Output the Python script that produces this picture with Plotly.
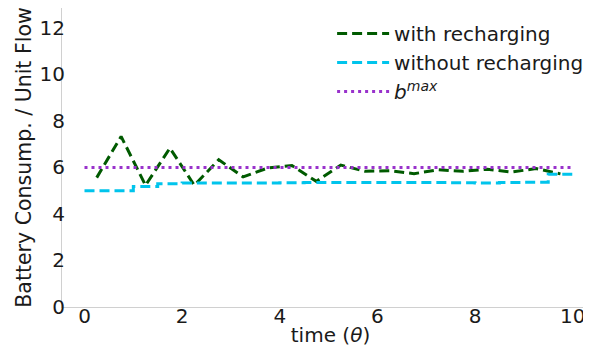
import plotly.graph_objects as go

# Data
t_with = [0.25, 0.75, 1.25, 1.75, 2.25, 2.75, 3.25, 3.75, 4.25, 4.75,
          5.25, 5.75, 6.25, 6.75, 7.25, 7.75, 8.25, 8.75, 9.25, 9.75]
with_recharging = [5.56, 7.33, 5.23, 6.83, 5.23, 6.33, 5.59, 5.97, 6.08, 5.40,
                   6.10, 5.83, 5.86, 5.73, 5.90, 5.83, 5.92, 5.80, 5.95, 5.72]
t_without = [0.0, 0.5, 1.0, 1.5, 2.0, 2.5, 3.0, 3.5, 4.0, 4.5, 5.0,
             5.5, 6.0, 6.5, 7.0, 7.5, 8.0, 8.5, 9.0, 9.5, 10.0]
without_recharging = [5.0, 5.0, 5.18, 5.30, 5.33, 5.33, 5.33, 5.33, 5.34, 5.35, 5.35,
                      5.35, 5.35, 5.35, 5.35, 5.34, 5.33, 5.35, 5.36, 5.70, 5.70]
b_max = 6.0
x_ticks = [0, 2, 4, 6, 8, 10]
y_ticks = [0, 2, 4, 6, 8, 10, 12]

FONT = "DejaVu Sans"

fig = go.Figure()
fig.add_trace(go.Scatter(x=t_with, y=with_recharging, mode="lines",
                         name="with recharging",
                         line=dict(color="#005a00", width=3, dash="10px,5px")))
fig.add_trace(go.Scatter(x=t_without, y=without_recharging, mode="lines",
                         name="without recharging", line_shape="hv",
                         line=dict(color="#00c4ec", width=3, dash="10px,5px")))
fig.add_trace(go.Scatter(x=[t_without[0], t_without[-1]], y=[b_max, b_max], mode="lines",
                         name="<i>b</i><sup><i>max</i></sup>",
                         line=dict(color="#9932cc", width=3, dash="3px,4px")))

fig.update_layout(
    width=591, height=350,
    margin=dict(l=54, r=0, t=0, b=51, autoexpand=False),
    paper_bgcolor="white", plot_bgcolor="white",
    font=dict(family=FONT, size=20, color="#1a1a1a"),
    showlegend=True,
    legend=dict(x=0.503, y=0.98, xanchor="left", yanchor="top",
                bgcolor="rgba(255,255,255,0)", font=dict(size=20),
                tracegroupgap=0, itemwidth=52),
    xaxis=dict(range=[-0.461, 10.54], tickvals=x_ticks, showgrid=False, zeroline=False,
               showline=True, linecolor="#d0d0d0", linewidth=1, mirror=True,
               ticks="", ticklen=0, ticklabelstandoff=-9, automargin=False,
               title=dict(text="time (<i>θ</i>)", standoff=0, font=dict(size=20))),
    yaxis=dict(range=[0, 12.85], tickvals=y_ticks, showgrid=False, zeroline=False,
               showline=True, linecolor="#d0d0d0", linewidth=1, mirror=True,
               ticks="", ticklen=0, ticklabelstandoff=-8, automargin=False,
               title=dict(text="Battery Consump. / Unit Flow", standoff=2, font=dict(size=20.5))),
)

fig.write_html("out.html")
